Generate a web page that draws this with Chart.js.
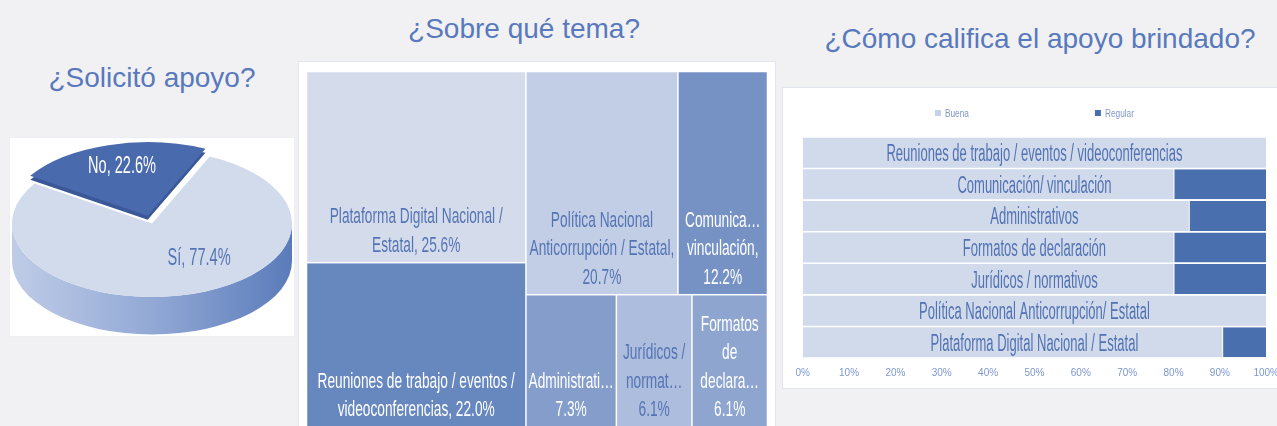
<!DOCTYPE html>
<html>
<head>
<meta charset="utf-8">
<script src="https://cdn.jsdelivr.net/npm/chart.js@4.4.1/dist/chart.umd.min.js"></script>
<style>
html,body{margin:0;padding:0;width:1277px;height:426px;overflow:hidden;background:#f1f1f3;font-family:"Liberation Sans",Arial,sans-serif;}
.title{position:absolute;color:#5979bd;font-size:28px;line-height:32px;white-space:nowrap;text-align:center;}
.panel{position:absolute;background:#fff;box-sizing:border-box;border:1.5px solid #e1e6ef;}
canvas{position:absolute;display:block;}
</style>
</head>
<body>
<div class="title" style="left:0;width:304px;top:62px">¿Solicitó apoyo?</div>
<div class="title" style="left:374px;width:300px;top:12.5px">¿Sobre qué tema?</div>
<div class="title" style="left:790px;width:500px;top:22.5px">¿Cómo califica el apoyo brindado?</div>

<div class="panel" style="left:9px;top:137px;width:286px;height:200px;border-color:#eceff4"></div>
<div class="panel" style="left:298px;top:61px;width:478px;height:390px"></div>
<div class="panel" style="left:782px;top:87px;width:520px;height:302px"></div>

<canvas id="pie" width="286" height="200" style="left:9px;top:137px"></canvas>
<canvas id="tree" width="477" height="366" style="left:299px;top:62px"></canvas>
<canvas id="bars" width="505" height="300" style="left:783px;top:88px"></canvas>

<script>
// ---------- DATA ----------
const pieLabels = ['No', 'Sí'];
const pieValues = [22.6, 77.4];

const tmNames = [
  'Plataforma Digital Nacional / Estatal',
  'Reuniones de trabajo / eventos / videoconferencias',
  'Política Nacional Anticorrupción / Estatal',
  'Comunicación / vinculación',
  'Administrativos',
  'Jurídicos / normativos',
  'Formatos de declaración'
];
const tmValues = [25.6, 22.0, 20.7, 12.2, 7.3, 6.1, 6.1];
const tmLabelText = [
  'Plataforma Digital Nacional /\nEstatal, {p}',
  'Reuniones de trabajo / eventos /\nvideoconferencias, {p}',
  'Política Nacional\nAnticorrupción / Estatal,\n{p}',
  'Comunica…\nvinculación,\n{p}',
  'Administrati…\n{p}',
  'Jurídicos /\nnormat…\n{p}',
  'Formatos\nde\ndeclara…\n{p}'
];
const tmGroups = [[0, 1], [2, 3], [4, 5, 6]];
const tmGroupDir = ['col', 'row', 'row'];

const barCategories = [
  'Reuniones de trabajo / eventos / videoconferencias',
  'Comunicación/ vinculación',
  'Administrativos',
  'Formatos de declaración',
  'Jurídicos / normativos',
  'Política Nacional Anticorrupción/ Estatal',
  'Plataforma Digital Nacional / Estatal'
];
const barSeriesNames = ['Buena', 'Regular'];
const barBuena   = [100, 80, 83.3, 80, 80, 100, 90.5];
const barRegular = [0, 20, 16.7, 20, 20, 0, 9.5];

// ---------- STYLES ----------
const pieColors = ['#4a6aae', '#d2dbeb'];
const tmColors = ['#d4dcec', '#6787bf', '#c2cee6', '#7692c5', '#849dcb', '#adbddd', '#8ea5d0'];
const tmTextColors = ['#5574b4', '#ffffff', '#5574b4', '#ffffff', '#ffffff', '#5574b4', '#ffffff'];
const barColors = ['#d0daeb', '#4a6fae'];
const FONT = '"Liberation Sans", Arial, sans-serif';

Chart.defaults.font.family = FONT;

function fmtPct(v) { return v.toFixed(1) + '%'; }
function calib(ctx, ref, size, target) {
  ctx.save(); ctx.font = size + 'px ' + FONT;
  const w = ctx.measureText(ref).width; ctx.restore();
  return target / w;
}
function condText(ctx, text, x, y, size, scale, color, align) {
  ctx.save();
  ctx.font = size + 'px ' + FONT;
  ctx.fillStyle = color;
  ctx.textBaseline = 'alphabetic';
  ctx.textAlign = 'left';
  const w = ctx.measureText(text).width * scale;
  const x0 = align === 'center' ? x - w / 2 : (align === 'right' ? x - w : x);
  ctx.translate(x0, y);
  ctx.scale(scale, 1);
  ctx.fillText(text, 0, 0);
  ctx.restore();
  return w;
}

// ---------- PIE (3D look) ----------
const E = { cx: 143, cy: 86.5, rx: 140, ry: 73.5, depth: 37.5 };
function ellipseTransform(chart, ctx) {
  const el = chart.getDatasetMeta(0).data[1];
  const R = el.outerRadius;
  ctx.translate(E.cx, E.cy);
  ctx.scale(E.rx / R, E.ry / R);
  ctx.translate(-el.x, -el.y);
}
const pie3d = {
  id: 'pie3d',
  beforeDatasetsDraw(chart) {
    const ctx = chart.ctx;
    const g = ctx.createLinearGradient(E.cx - E.rx, 0, E.cx + E.rx, 0);
    g.addColorStop(0, '#bfcce7');
    g.addColorStop(0.5, '#92a9d5');
    g.addColorStop(1, '#5a7bba');
    ctx.save();
    ctx.beginPath();
    ctx.ellipse(E.cx, E.cy, E.rx, E.ry, 0, 0, Math.PI, false);
    ctx.lineTo(E.cx - E.rx, E.cy + E.depth);
    ctx.ellipse(E.cx, E.cy + E.depth, E.rx, E.ry, 0, Math.PI, 0, true);
    ctx.closePath();
    ctx.fillStyle = g;
    ctx.fill();
    ctx.restore();
    // thickness of exploded slice
    const no = chart.getDatasetMeta(0).data[0];
    ctx.save();
    ctx.translate(0, 4);
    ellipseTransform(chart, ctx);
    const half = (no.startAngle + no.endAngle) / 2, off = (no.options.offset || 0) / 4;
    const ox = no.x + Math.cos(half) * off, oy = no.y + Math.sin(half) * off;
    ctx.beginPath(); ctx.moveTo(ox, oy);
    ctx.arc(ox, oy, no.outerRadius, no.startAngle, no.endAngle);
    ctx.closePath();
    ctx.fillStyle = '#3a5898';
    ctx.fill();
    ctx.restore();
    ctx.save();
    ellipseTransform(chart, ctx);
  },
  afterDatasetsDraw(chart) {
    const ctx = chart.ctx;
    ctx.restore();
    const sc = calib(ctx, 'No, 22.6%', 23, 68);
    const anchors = [[-0.214, -0.796], [0.336, 0.456]];
    const colors = ['#ffffff', '#5574b4'];
    pieLabels.forEach((l, i) => {
      const x = E.cx + anchors[i][0] * E.rx;
      const y = E.cy + anchors[i][1] * E.ry + 8.3;
      condText(ctx, l + ', ' + fmtPct(pieValues[i]), x, y, 23, sc, colors[i], 'center');
    });
  }
};
new Chart(document.getElementById('pie'), {
  type: 'pie',
  data: { labels: pieLabels, datasets: [{ data: pieValues, backgroundColor: pieColors, borderWidth: 0, offset: [36, 0], clip: false }] },
  options: {
    responsive: false, animation: false, devicePixelRatio: 1,
    rotation: -57,
    plugins: { legend: { display: false }, tooltip: { enabled: false } }
  },
  plugins: [pie3d]
});

// ---------- TREEMAP ----------
function layoutTreemap() {
  const rects = [];
  let x0 = 0, y0 = 0, x1 = 100, y1 = 100;
  let remaining = tmValues.reduce((a, b) => a + b, 0);
  tmGroups.forEach((g, gi) => {
    const gs = g.reduce((s, i) => s + tmValues[i], 0);
    const f = gs / remaining;
    if (tmGroupDir[gi] === 'col') {
      const xe = x0 + (x1 - x0) * f; let yy = y0;
      g.forEach(i => { const h = (y1 - y0) * tmValues[i] / gs; rects[i] = { x0: x0, x1: xe, y0: yy, y1: yy + h }; yy += h; });
      x0 = xe;
    } else {
      const ye = y0 + (y1 - y0) * f; let xx = x0;
      g.forEach(i => { const w = (x1 - x0) * tmValues[i] / gs; rects[i] = { x0: xx, x1: xx + w, y0: y0, y1: ye }; xx += w; });
      y0 = ye;
    }
    remaining -= gs;
  });
  return rects;
}
const treemapPlugin = {
  id: 'treemapCells',
  afterDatasetsDraw(chart) {
    const ctx = chart.ctx, xs = chart.scales.x, ys = chart.scales.y;
    const rects = layoutTreemap();
    const sc = calib(ctx, 'Plataforma Digital Nacional /', 22, 173);
    rects.forEach((r, i) => {
      const L = xs.getPixelForValue(r.x0), R = xs.getPixelForValue(r.x1);
      const T = ys.getPixelForValue(r.y0), B = ys.getPixelForValue(r.y1);
      ctx.fillStyle = tmColors[i];
      ctx.fillRect(L + 0.75, T + 0.75, R - L - 1.5, B - T - 1.5);
      const lines = tmLabelText[i].replace('{p}', fmtPct(tmValues[i])).split('\n');
      const cx = (L + R) / 2;
      let base = B - 11;
      for (let k = lines.length - 1; k >= 0; k--) {
        condText(ctx, lines[k], cx, base, 22, sc, tmTextColors[i], 'center');
        base -= 28.5;
      }
    });
  }
};
new Chart(document.getElementById('tree'), {
  type: 'scatter',
  data: { datasets: [{ label: 'Tema', data: [], pointRadius: 0 }] },
  options: {
    responsive: false, animation: false, devicePixelRatio: 1,
    layout: { padding: { left: 7.5, right: 8.5, top: 9.5, bottom: 1 } },
    plugins: { legend: { display: false }, tooltip: { enabled: false } },
    scales: {
      x: { type: 'linear', min: 0, max: 100, display: false },
      y: { type: 'linear', min: 0, max: 100, reverse: true, display: false }
    }
  },
  plugins: [treemapPlugin]
});

// ---------- STACKED BARS ----------
const barLabelPlugin = {
  id: 'barLabels',
  afterDatasetsDraw(chart) {
    const ctx = chart.ctx, xs = chart.scales.x, ys = chart.scales.y;
    const sc = calib(ctx, 'Reuniones de trabajo / eventos / videoconferencias', 23.5, 296);
    barCategories.forEach((c, i) => {
      condText(ctx, c, xs.getPixelForValue(50), ys.getPixelForValue(i) + 8.5, 23.5, sc, '#5272b3', 'center');
    });
  },
  afterDraw(chart) {
    const ctx = chart.ctx, a = chart.chartArea;
    const sc = calib(ctx, 'Buena', 10, 24);
    const cx = (a.left + a.right) / 2;
    ctx.save(); ctx.font = '10px ' + FONT;
    const widths = chart.data.datasets.map(d => 6 + 4 + ctx.measureText(d.label).width * sc);
    ctx.restore();
    const gap = 126;
    let x = cx - (widths[0] + gap + widths[1]) / 2;
    chart.data.datasets.forEach((d, i) => {
      ctx.fillStyle = i === 0 ? '#c6d1e7' : d.backgroundColor;
      ctx.fillRect(x, a.top - 27, 6, 6);
      condText(ctx, d.label, x + 10, a.top - 20.5, 10, sc, '#7f96cb', 'left');
      x += widths[i] + gap;
    });
  }
};
new Chart(document.getElementById('bars'), {
  type: 'bar',
  data: {
    labels: barCategories,
    datasets: [
      { label: barSeriesNames[0], data: barBuena, backgroundColor: barColors[0], barPercentage: 0.95, categoryPercentage: 1, borderWidth: 0 },
      { label: barSeriesNames[1], data: barRegular, backgroundColor: barColors[1], barPercentage: 0.95, categoryPercentage: 1,
        borderColor: '#ffffff', borderWidth: { left: 1, top: 0, right: 0, bottom: 0 }, borderSkipped: false }
    ]
  },
  options: {
    indexAxis: 'y', responsive: false, animation: false, devicePixelRatio: 1,
    layout: { padding: { left: 19.7, right: 0, top: 49, bottom: 0 } },
    plugins: { legend: { display: false }, tooltip: { enabled: false } },
    scales: {
      x: {
        stacked: true, min: 0, max: 100,
        ticks: { stepSize: 10, callback: v => v + '%', color: '#7d97d0', font: { size: 10 }, padding: 9, maxRotation: 0, autoSkip: false },
        grid: { display: false, drawTicks: false }, border: { display: false }
      },
      y: { stacked: true, display: false }
    }
  },
  plugins: [barLabelPlugin]
});
</script>
</body>
</html>
